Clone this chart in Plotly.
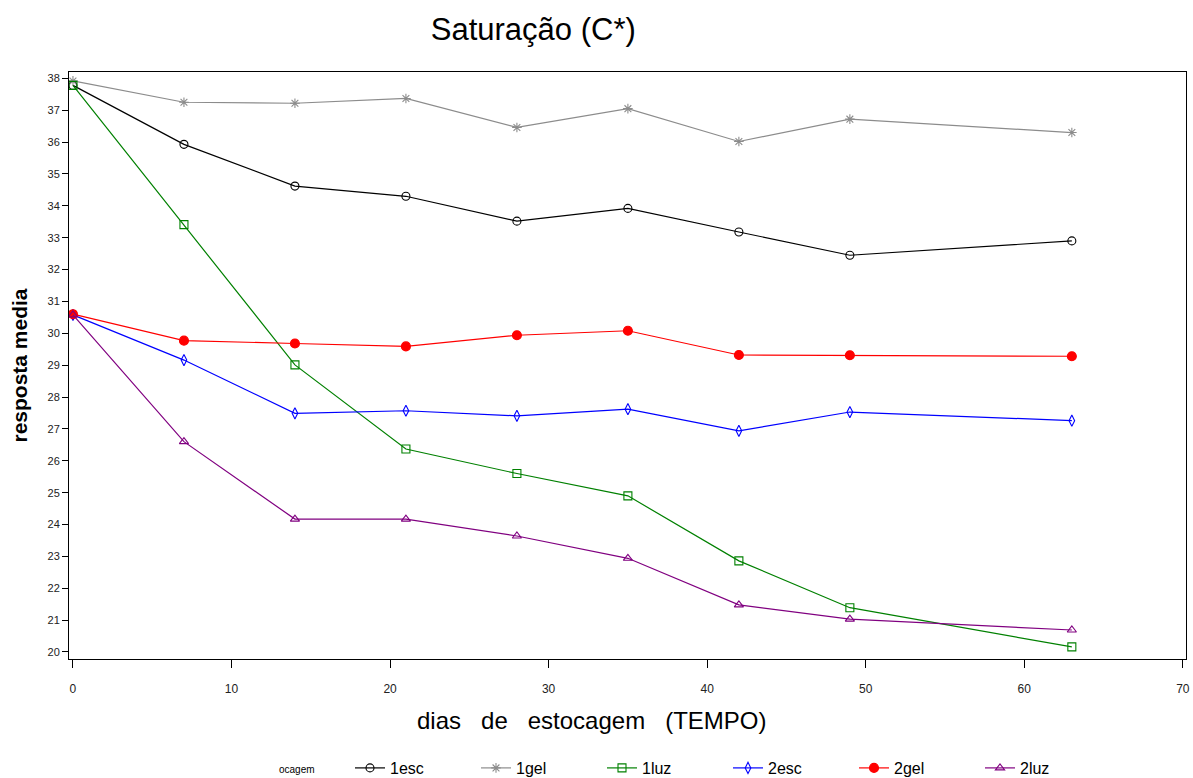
import plotly.graph_objects as go

dias = [0, 7, 14, 21, 28, 35, 42, 49, 63]

esc1 = [37.78, 35.93, 34.62, 34.30, 33.52, 33.92, 33.18, 32.45, 32.90]
gel1 = [37.92, 37.25, 37.22, 37.37, 36.46, 37.05, 36.02, 36.72, 36.30]
luz1 = [37.78, 33.41, 29.01, 26.37, 25.60, 24.90, 22.86, 21.39, 20.16]
esc2 = [30.58, 29.16, 27.49, 27.57, 27.41, 27.62, 26.94, 27.53, 27.26]
gel2 = [30.60, 29.77, 29.68, 29.59, 29.94, 30.08, 29.32, 29.31, 29.28]
luz2 = [30.58, 26.60, 24.17, 24.17, 23.64, 22.94, 21.48, 21.03, 20.69]

series_names = ["1esc", "1gel", "1luz", "2esc", "2gel", "2luz"]
series_vals = [esc1, gel1, luz1, esc2, gel2, luz2]
colors = ["#000000", "#8c8c8c", "#008000", "#0000ff", "#ff0000", "#800080"]
symbols = ["circle-open", "asterisk-open", "square-open", "diamond-tall-open", "circle", "triangle-up-open"]
sizes = [8, 8, 8, 8, 9, 8]

fig = go.Figure()
for name, vals, c, s, sz in zip(series_names, series_vals, colors, symbols, sizes):
    fig.add_trace(go.Scatter(
        x=dias, y=vals, name=name, mode="lines+markers",
        line=dict(color=c, width=1.2),
        marker=dict(symbol=s, size=sz, color=c, line=dict(color=c, width=1.1)),
    ))

W_PLOT, H_PLOT, L, T = 1117, 587, 69, 72
fig.update_layout(
    width=1193, height=778,
    paper_bgcolor="white", plot_bgcolor="white",
    margin=dict(l=69, r=7, t=72, b=119, autoexpand=False),
    font=dict(family="Liberation Sans, Arial, sans-serif", color="#000"),
    title=dict(text="Saturação (C*)", x=0.447, xanchor="center", y=0.963, yanchor="middle",
               font=dict(size=31, color="#000")),
    showlegend=True,
    legend=dict(
        orientation="h", x=(350 - L) / W_PLOT, xanchor="left", y=(659 - 768) / H_PLOT, yanchor="middle",
        font=dict(size=16, color="#000"),
        entrywidth=81, entrywidthmode="pixels",
        bgcolor="rgba(0,0,0,0)",
    ),
    annotations=[
        dict(text="dias   de   estocagem   (TEMPO)", xref="paper", yref="paper",
             x=(591 - L) / W_PLOT, y=(659 - 720) / H_PLOT, xanchor="center", yanchor="middle",
             showarrow=False, font=dict(size=24, color="#000")),
        dict(text="ocagem", xref="paper", yref="paper",
             x=(277 - L) / W_PLOT, y=(659 - 769) / H_PLOT, xanchor="left", yanchor="middle",
             showarrow=False, font=dict(size=10, color="#000")),
    ],
)

fig.update_xaxes(
    range=[-0.25, 70.2], tickmode="array", tickvals=[0, 10, 20, 30, 40, 50, 60, 70],
    ticks="outside", ticklen=8, tickcolor="#000", tickwidth=1,
    showline=True, linecolor="#000", linewidth=1, mirror=True,
    showgrid=False, zeroline=False,
    tickfont=dict(size=12, color="#222"), ticklabelstandoff=11,
)
fig.update_yaxes(
    range=[19.78, 38.2], tickmode="linear", tick0=20, dtick=1,
    ticks="outside", ticklen=6, tickcolor="#000", tickwidth=1,
    showline=True, linecolor="#000", linewidth=1, mirror=True,
    showgrid=False, zeroline=False,
    tickfont=dict(size=11, color="#222"),
    title=dict(text="<b>resposta media</b>", font=dict(size=21, color="#000"), standoff=14),
)

fig.write_html("out.html")
